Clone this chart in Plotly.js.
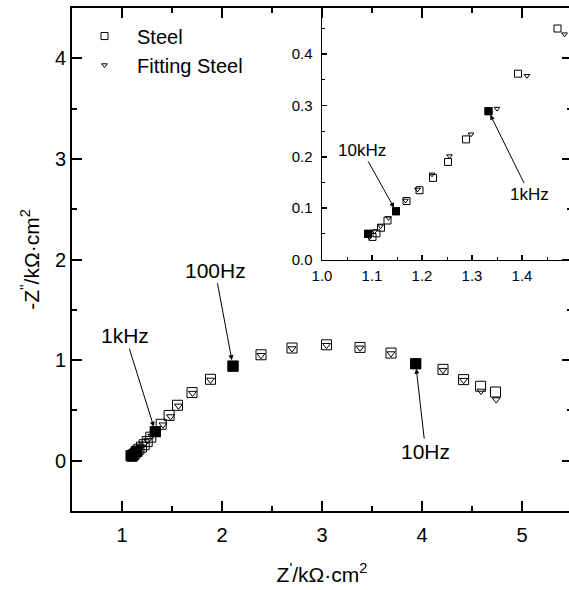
<!DOCTYPE html>
<html><head><meta charset="utf-8">
<script src="https://cdn.plot.ly/plotly-3.0.1.min.js"></script>
<style>html,body{margin:0;padding:0;overflow:hidden;background:#fff}</style>
</head><body><div id="chart" style="width:574px;height:590px"></div>
<script>
// Steel (open squares)
const steelX = [1.092, 1.101, 1.109, 1.118, 1.131, 1.148, 1.169, 1.195, 1.222, 1.252, 1.288, 1.333, 1.392, 1.471, 1.555, 1.700, 1.885, 2.110, 2.390, 2.700, 3.045, 3.380, 3.690, 3.937, 4.210, 4.416, 4.586, 4.735];
const steelY = [0.050, 0.044, 0.051, 0.062, 0.076, 0.094, 0.114, 0.135, 0.159, 0.190, 0.234, 0.289, 0.362, 0.450, 0.551, 0.677, 0.809, 0.940, 1.053, 1.120, 1.152, 1.126, 1.070, 0.964, 0.908, 0.806, 0.740, 0.683];
// Fitting Steel (open down-triangles)
const fitX = [1.095, 1.105, 1.117, 1.133, 1.150, 1.167, 1.191, 1.220, 1.255, 1.298, 1.350, 1.410, 1.485, 1.565, 1.705, 1.885, 2.110, 2.390, 2.700, 3.045, 3.380, 3.690, 3.940, 4.210, 4.416, 4.590, 4.742];
const fitY = [0.0435, 0.055, 0.065, 0.081, 0.098, 0.115, 0.1365, 0.166, 0.2016, 0.244, 0.294, 0.358, 0.439, 0.545, 0.672, 0.803, 0.935, 1.048, 1.115, 1.148, 1.122, 1.065, 0.955, 0.900, 0.800, 0.693, 0.608];
// highlighted frequency points (indices into steel arrays) and their labels
const markedIdx = [0, 5, 11, 17, 23];
const markedLabels = ['100kHz', '10kHz', '1kHz', '100Hz', '10Hz'];
const seriesNames = ['Steel', 'Fitting Steel'];

const FONT = 'Liberation Sans, Arial, sans-serif';
const markX = markedIdx.map(i => steelX[i]);
const markY = markedIdx.map(i => steelY[i]);
function pt(label) { const k = markedLabels.indexOf(label); return [markX[k], markY[k]]; }

const traces = [
  {x: steelX, y: steelY, xaxis: 'x', yaxis: 'y', mode: 'markers', name: seriesNames[0], showlegend: false,
   marker: {symbol: 'square-open', size: 10, color: 'black', line: {width: 1, color: 'black'}}},
  {x: fitX, y: fitY, xaxis: 'x', yaxis: 'y', mode: 'markers', name: seriesNames[1], showlegend: false,
   marker: {symbol: 'triangle-down-open', size: 7, color: 'black', line: {width: 1, color: 'black'}}},
  {x: markX, y: markY, xaxis: 'x', yaxis: 'y', mode: 'markers', showlegend: false,
   marker: {symbol: 'square', size: 11, color: 'black'}},
  {x: steelX, y: steelY, xaxis: 'x2', yaxis: 'y2', mode: 'markers', name: seriesNames[0], showlegend: true, cliponaxis: true,
   marker: {symbol: 'square-open', size: 7, color: 'black', line: {width: 1, color: 'black'}}},
  {x: fitX, y: fitY, xaxis: 'x2', yaxis: 'y2', mode: 'markers', name: seriesNames[1], showlegend: true, cliponaxis: true,
   marker: {symbol: 'triangle-down-open', size: 5, color: 'black', line: {width: 1, color: 'black'}}},
  {x: markX, y: markY, xaxis: 'x2', yaxis: 'y2', mode: 'markers', showlegend: false,
   marker: {symbol: 'square', size: 8, color: 'black'}}
];

function ann(label, xref, yref, ax, ay, size, standoff) {
  const p = pt(label);
  return {x: p[0], y: p[1], xref: xref, yref: yref, text: label, showarrow: true,
    ax: ax, ay: ay, arrowhead: 2, arrowsize: 1, arrowwidth: 1, arrowcolor: 'black',
    standoff: standoff, font: {family: FONT, size: size, color: 'black'}};
}

const mainAxis = {
  showline: true, linewidth: 2, linecolor: 'black', mirror: 'ticks',
  ticks: 'inside', ticklen: 10, tickwidth: 2, tickcolor: 'black',
  showgrid: false, zeroline: false,
  tickfont: {family: FONT, size: 20, color: 'black'},
  minor: {ticks: 'inside', ticklen: 5, tickwidth: 2, tickcolor: 'black', showgrid: false}
};
const insetAxis = {
  showline: true, linewidth: 1.5, linecolor: 'black', mirror: false,
  ticks: 'inside', ticklen: 5, tickwidth: 1.5, tickcolor: 'black',
  showgrid: false, zeroline: false, tickformat: '.1f',
  tickfont: {family: FONT, size: 15, color: 'black'},
  minor: {ticks: 'inside', ticklen: 3, tickwidth: 1, tickcolor: 'black', showgrid: false, dtick: 0.05}
};

const layout = {
  width: 574, height: 590,
  margin: {l: 72, r: 2, t: 8, b: 79},
  paper_bgcolor: 'white', plot_bgcolor: 'rgba(0,0,0,0)',
  font: {family: FONT, color: 'black'},
  showlegend: true,
  legend: {x: 0, y: 0.983, xanchor: 'left', yanchor: 'top', bgcolor: 'rgba(0,0,0,0)',
    itemwidth: 55, font: {family: FONT, size: 20, color: 'black'}},
  xaxis: Object.assign({}, mainAxis, {domain: [0, 1], anchor: 'y', range: [0.5, 5.5], dtick: 1, tick0: 0,
    ticklabelstandoff: 5,
    minor: Object.assign({}, mainAxis.minor, {dtick: 0.5}),
    title: {text: "Z<sup>'</sup>/kΩ·cm<sup>2</sup>", font: {family: FONT, size: 21, color: 'black'}, standoff: 22}}),
  yaxis: Object.assign({}, mainAxis, {domain: [0, 1], anchor: 'x', range: [-0.5, 4.5], dtick: 1, tick0: 0,
    minor: Object.assign({}, mainAxis.minor, {dtick: 0.5}),
    title: {text: "-Z<sup>''</sup>/kΩ·cm<sup>2</sup>", font: {family: FONT, size: 21, color: 'black'}, standoff: 10}}),
  xaxis2: Object.assign({}, insetAxis, {domain: [0.5, 1], anchor: 'y2', range: [1.0, 1.5], dtick: 0.1, tick0: 0,
    ticklabelstandoff: 2}),
  yaxis2: Object.assign({}, insetAxis, {domain: [0.5, 1], anchor: 'x2', range: [0, 0.49], dtick: 0.1, tick0: 0,
    ticklabelstandoff: 5}),
  annotations: [
    ann('1kHz', 'x', 'y', -30, -96, 21, 5),
    ann('100Hz', 'x', 'y', -18, -96, 21, 6),
    ann('10Hz', 'x', 'y', 10, 88, 21, 5),
    ann('10kHz', 'x2', 'y2', -34, -61, 17, 4),
    ann('1kHz', 'x2', 'y2', 41, 83, 17, 4)
  ]
};

Plotly.newPlot('chart', traces, layout, {staticPlot: true, displayModeBar: false});
</script>
</body></html>
